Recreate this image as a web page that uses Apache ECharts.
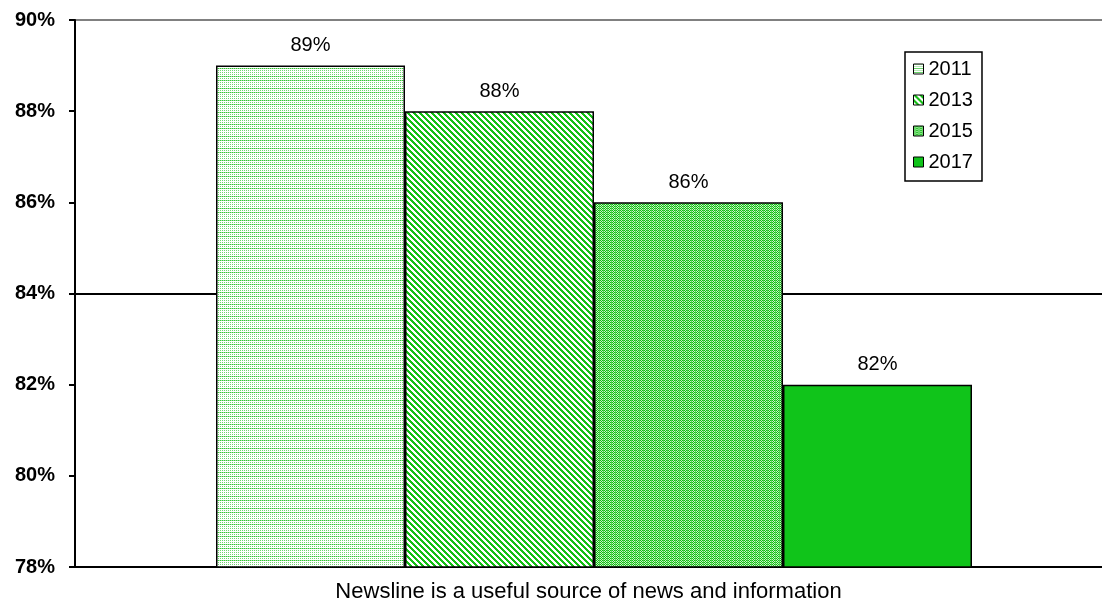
<!DOCTYPE html>
<html><head><meta charset="utf-8">
<script src="https://cdn.jsdelivr.net/npm/echarts@6/dist/echarts.min.js"></script>
<style>html,body{margin:0;padding:0;background:#fff}#c{width:1102px;height:603px}</style>
</head><body><div id="c"></div>
<script>
var categories = ['Newsline is a useful source of news and information'];
var years = ['2011', '2013', '2015', '2017'];
var values2011 = [89];
var values2013 = [88];
var values2015 = [86];
var values2017 = [82];
var yTicks = [78, 80, 82, 84, 86, 88, 90];

function makeTile(w, h, fn) {
  var c = document.createElement('canvas');
  c.width = w; c.height = h;
  var ctx = c.getContext('2d');
  ctx.fillStyle = '#fff'; ctx.fillRect(0, 0, w, h);
  for (var y = 0; y < h; y++) for (var x = 0; x < w; x++) {
    var col = fn(x, y);
    if (col) { ctx.fillStyle = col; ctx.fillRect(x, y, 1, 1); }
  }
  return { image: c, repeat: 'repeat' };
}
var pat2011 = makeTile(4, 12, function (x, y) {
  if (y % 12 === 4 || y % 12 === 8) return (x % 2 === 0) ? '#33c433' : '#a0e6a0';
  if (y % 2 === 0 && x % 2 === 0) return '#6fd66f';
  return null;
});
var pat2013 = makeTile(6, 6, function (x, y) {
  var d = ((x - y) % 6 + 6) % 6;
  return d < 3 ? '#14c014' : null;
});
var pat2015 = makeTile(4, 2, function (x, y) {
  if (x === 3) return '#4fd24f';
  return ((x + y) % 2 === 0) ? '#0fbf0f' : '#c8f0c8';
});
var solid2017 = '#10c41a';

var fills = [pat2011, pat2013, pat2015, solid2017];
var data = [values2011, values2013, values2015, values2017];

var chart = echarts.init(document.getElementById('c'), null, { renderer: 'canvas' });
// invisible spacer series (no data) to offset the bar group like the reference
var series = [{
  name: 'spacer', type: 'bar', data: ['-'], barWidth: 11, barGap: '0%',
  itemStyle: { color: 'transparent' }, silent: true
}];
years.forEach(function (y, i) {
  var s = {
    name: y, type: 'bar', data: data[i], barWidth: 189, barGap: '0%',
    itemStyle: { color: fills[i], borderColor: '#000', borderWidth: 1.5 },
    label: { show: true, position: 'top', distance: 10, formatter: '{c}%',
      fontFamily: 'Liberation Sans', fontSize: 20, color: '#000' }
  };
  if (i === 0) {
    s.markLine = {
      silent: true, symbol: 'none', label: { show: false },
      data: [
        { yAxis: 84, lineStyle: { color: '#000', width: 2, type: 'solid' } },
        { yAxis: 90, lineStyle: { color: '#808080', width: 2, type: 'solid' } }
      ],
      z: 0
    };
  }
  series.push(s);
});

chart.setOption({
  animation: false,
  backgroundColor: '#fff',
  grid: { left: 75, right: 0, top: 20, bottom: 31, containLabel: false },
  legend: {
    orient: 'vertical', left: 905, top: 52,
    data: years, icon: 'rect', itemWidth: 10, itemHeight: 10, itemGap: 11,
    padding: [7, 9, 9, 8],
    borderColor: '#000', borderWidth: 1.5,
    textStyle: { fontFamily: 'Liberation Sans', fontSize: 20, color: '#000', lineHeight: 20 },
    itemStyle: { borderColor: '#000', borderWidth: 1 }
  },
  xAxis: {
    type: 'category', data: categories,
    axisLine: { lineStyle: { color: '#000', width: 2 } },
    axisTick: { show: false },
    axisLabel: { fontFamily: 'Liberation Sans', fontSize: 22, color: '#000', margin: 14 }
  },
  yAxis: {
    type: 'value', min: yTicks[0], max: yTicks[yTicks.length - 1], interval: 2,
    axisLine: { show: true, lineStyle: { color: '#000', width: 2 } },
    axisTick: { show: true, inside: false, length: 6, lineStyle: { color: '#000', width: 2 } },
    splitLine: { show: false },
    axisLabel: { formatter: '{value}%', fontFamily: 'Liberation Sans', fontWeight: 'bold',
      fontSize: 20, color: '#000', margin: 20 }
  },
  series: series
});
</script></body></html>
